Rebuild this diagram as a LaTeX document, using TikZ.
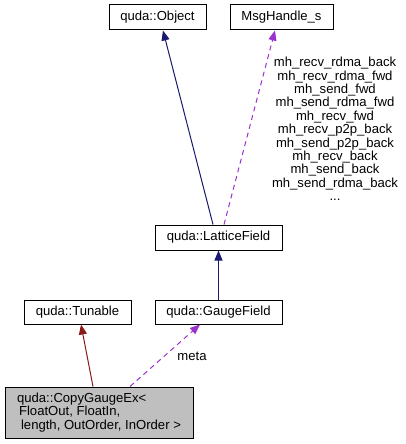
\documentclass[tikz,border=0pt]{standalone}
\usepackage{fontspec}
\setmainfont{Liberation Sans}
\usetikzlibrary{arrows.meta}
\definecolor{inhblue}{HTML}{191970}
\definecolor{usepurple}{HTML}{9A32CD}
\definecolor{prvred}{HTML}{8B1A1A}
\tikzset{
  cls/.style={draw, line width=1pt, inner sep=0pt, minimum height=25pt, font=\fontsize{13.1}{13.4}\selectfont},
  inh/.style={draw=inhblue, line width=1pt, -{Triangle[length=10pt,width=8pt,fill=inhblue]}},
  prv/.style={draw=prvred, line width=1pt, -{Triangle[length=10pt,width=8pt,fill=prvred]}},
  use/.style={draw=usepurple, line width=1pt, dash pattern=on 5pt off 4pt, -{Triangle[length=10pt,width=8pt,fill=usepurple]}},
  lbl/.style={font=\fontsize{13.1}{13.4}\selectfont, align=center, inner sep=0pt}
}
\begin{document}
\begin{tikzpicture}[x=1pt,y=-1pt]
    \useasboundingbox (0,0) rectangle (405,444);
    \node[cls, minimum width=97pt] (object) at (157.5,17.5) {quda::Object};
    \node[cls, minimum width=103pt] (msg) at (281.5,17.5) {MsgHandle\_s};
    \node[cls, minimum width=127pt] (lattice) at (218.5,237.5) {quda::LatticeField};
    \node[cls, minimum width=107pt, minimum height=24pt] (tunable) at (77.5,312) {quda::Tunable};
    \node[cls, minimum width=127pt, minimum height=24pt] (gauge) at (218.5,312) {quda::GaugeField};
    \node[cls, fill=gray!50, minimum width=188pt, minimum height=51pt, align=left] (copy) at (99,412.5)
        {quda::CopyGaugeEx\textless\\\hspace*{2pt}FloatOut, FloatIn,\\\hspace*{4pt}length, OutOrder, InOrder \textgreater};
    % edges
    \draw[inh] ([xshift=-5.5pt]lattice.north) -- ([xshift=5.5pt]object.south);
    \draw[use] ([xshift=5.5pt]lattice.north) -- ([xshift=-6.5pt]msg.south);
    \draw[inh] (gauge.north) -- (lattice.south);
    \draw[prv] ([xshift=-6pt]copy.north) -- ([xshift=3.5pt]tunable.south);
    \draw[use] ([xshift=31pt]copy.north) -- ([xshift=-18.5pt]gauge.south);
    % labels
    \node[lbl] (msglbl) at (335,129) {mh\_recv\_rdma\_back\\mh\_recv\_rdma\_fwd\\mh\_send\_fwd\\mh\_send\_rdma\_fwd\\mh\_recv\_fwd\\mh\_recv\_p2p\_back\\mh\_send\_p2p\_back\\mh\_recv\_back\\mh\_send\_back\\mh\_send\_rdma\_back\\...};
    \node[lbl] (metalbl) at (192,356) {meta};
\end{tikzpicture}
\end{document}
